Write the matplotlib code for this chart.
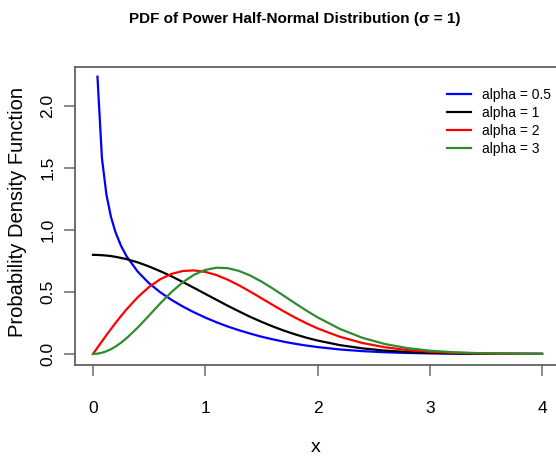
import matplotlib.pyplot as plt

# x grid and density values
x = [0.0, 0.04, 0.08, 0.12, 0.16, 0.2, 0.25, 0.3, 0.4, 0.5, 0.6, 0.7, 0.8, 0.9,
     1.0, 1.1, 1.2, 1.3, 1.4, 1.5, 1.6, 1.7, 1.8, 1.9, 2.0, 2.2, 2.4, 2.6, 2.8,
     3.0, 3.2, 3.4, 3.6, 3.8, 4.0]
pdf_a05 = [None, 2.232, 1.575, 1.282, 1.105, 0.982, 0.870, 0.785, 0.661, 0.569,
           0.496, 0.435, 0.382, 0.335, 0.293, 0.255, 0.221, 0.191, 0.164, 0.139,
           0.118, 0.0985, 0.082, 0.0676, 0.0553, 0.036, 0.0226, 0.0136, 0.0079,
           0.0044, 0.0024, 0.0012, 0.0006, 0.0003, 0.0001]
pdf_a1 = [0.798, 0.797, 0.795, 0.792, 0.788, 0.782, 0.773, 0.763, 0.737, 0.704,
          0.666, 0.625, 0.579, 0.532, 0.484, 0.436, 0.388, 0.343, 0.299, 0.259,
          0.222, 0.188, 0.158, 0.131, 0.108, 0.071, 0.045, 0.027, 0.016, 0.009,
          0.005, 0.002, 0.001, 0.001, 0.0003]
pdf_a2 = [0.0, 0.0509, 0.1014, 0.1513, 0.2003, 0.2479, 0.3053, 0.3598, 0.4579,
          0.5393, 0.6018, 0.6446, 0.6678, 0.6725, 0.6608, 0.6350, 0.5980, 0.5528,
          0.5022, 0.4489, 0.3951, 0.3427, 0.2931, 0.2474, 0.2061, 0.1379, 0.0881,
          0.0538, 0.0315, 0.0177, 0.0095, 0.0049, 0.0024, 0.0012, 0.0005]
pdf_a3 = [0.0, 0.0024, 0.0097, 0.0217, 0.0382, 0.0590, 0.0904, 0.1273, 0.2135,
          0.3097, 0.4076, 0.4990, 0.5772, 0.6374, 0.6766, 0.6940, 0.6906, 0.6686,
          0.6316, 0.5833, 0.5276, 0.4682, 0.4081, 0.3498, 0.2951, 0.2012, 0.1300,
          0.0800, 0.0470, 0.0264, 0.0142, 0.0074, 0.0037, 0.0017, 0.0008]
labels = ["alpha = 0.5", "alpha = 1", "alpha = 2", "alpha = 3"]
colors = ["#0000ff", "black", "#ff0000", "#2e8b2e"]

plt.rcParams['font.family'] = ['Liberation Sans', 'DejaVu Sans']

fig = plt.figure(figsize=(5.56, 4.59), dpi=100)
ax = fig.add_axes([75/556, 94/459, 485/556, 298/459])

series = [pdf_a05, pdf_a1, pdf_a2, pdf_a3]
for ys, c, lab in zip(series, colors, labels):
    xs = [a for a, b in zip(x, ys) if b is not None]
    yv = [b for b in ys if b is not None]
    ax.plot(xs, yv, color=c, lw=1.6, label=lab)

ax.set_xlim(-0.16, 4.16)
ax.set_ylim(-0.089, 2.31)
ax.set_xticks([0, 1, 2, 3, 4])
ax.set_yticks([0.0, 0.5, 1.0, 1.5, 2.0])
ax.set_yticklabels(["0.0", "0.5", "1.0", "1.5", "2.0"], rotation=90, va='center')
for s in ax.spines.values():
    s.set_color('#555555')
    s.set_linewidth(1.2)
ax.tick_params(direction='out', length=8, width=1.2, color='#777777',
               labelsize=12.5)
ax.tick_params(axis='x', pad=18)
ax.tick_params(axis='y', pad=6)

fig.text(0.53, 1 - 19/459, "PDF of Power Half-Normal Distribution (σ = 1)",
         ha='center', va='center', fontsize=11, fontweight='bold')
fig.text(18/556, 1 - 212/459, "Probability Density Function", rotation=90,
         ha='center', va='center', fontsize=14.5)
fig.text(316/556, 1 - 447/459, "x", ha='center', va='center', fontsize=14)

ax.legend(loc='upper left', bbox_to_anchor=((441 - 75)/485, 1 - (82 - 67)/298),
          frameon=False, fontsize=10, handlelength=1.75, handletextpad=0.8,
          labelspacing=0.3, borderaxespad=0)

fig.savefig("out.png", dpi=100)
